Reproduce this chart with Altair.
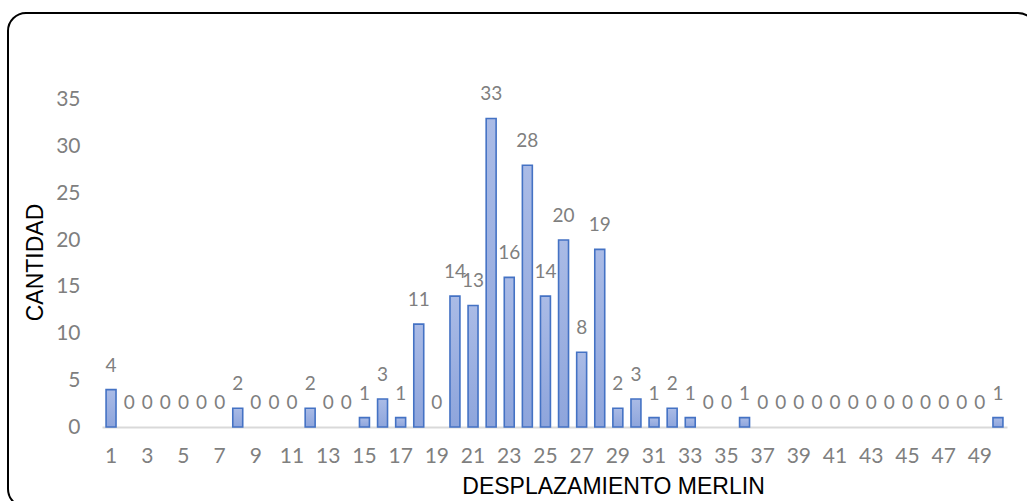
import altair as alt
import pandas as pd

# Displacement classes and their counts
desplazamiento = list(range(1, 51))
cantidad = [4, 0, 0, 0, 0, 0, 0, 2, 0, 0,
            0, 2, 0, 0, 1, 3, 1, 11, 0, 14,
            13, 33, 16, 28, 14, 20, 8, 19, 2, 3,
            1, 2, 1, 0, 0, 1, 0, 0, 0, 0,
            0, 0, 0, 0, 0, 0, 0, 0, 0, 1]
x_ticks = list(range(1, 50, 2))
y_ticks = [0, 5, 10, 15, 20, 25, 30, 35]

df = pd.DataFrame({"desplazamiento": desplazamiento, "cantidad": cantidad})

W, H = 905, 374
GRAY = "#7f7f7f"
NUM_FONT = "Lato"
TITLE_FONT = "Liberation Sans"

x_scale = alt.Scale(domain=desplazamiento, paddingInner=0.45, paddingOuter=0.225)

x_enc = alt.X(
    "desplazamiento:O",
    scale=x_scale,
    axis=alt.Axis(
        values=x_ticks,
        labelAngle=0,
        labelFont=NUM_FONT,
        labelFontSize=21,
        labelColor=GRAY,
        labelPadding=18,
        ticks=False,
        domainColor="#d9d9d9",
        domainWidth=2,
        title="DESPLAZAMIENTO MERLIN",
        titleFont=TITLE_FONT,
        titleFontSize=23,
        titleFontWeight="normal",
        titleColor="black",
        titleAlign="center",
        titleBaseline="alphabetic",
        titleX=511,
        titleY=66,
    ),
)

y_enc = alt.Y(
    "cantidad:Q",
    scale=alt.Scale(domain=[0, 40], nice=False),
    axis=alt.Axis(
        values=y_ticks,
        labelFont=NUM_FONT,
        labelFontSize=21,
        labelColor=GRAY,
        labelPadding=22,
        ticks=False,
        domain=False,
        grid=False,
        title="CANTIDAD",
        titleFont=TITLE_FONT,
        titleFontSize=23,
        titleFontWeight="normal",
        titleColor="black",
        titleAngle=-90,
        titleAlign="center",
        titleBaseline="alphabetic",
        titleX=-60,
        titleY=209,
    ),
)

# Only non-empty classes get a visible bar
bars = alt.Chart(df).transform_filter(
    alt.datum.cantidad > 0
).mark_bar(
    color=alt.Gradient(
        gradient="linear",
        x1=0, y1=0, x2=0, y2=1,
        stops=[
            alt.GradientStop(color="#aabbe6", offset=0),
            alt.GradientStop(color="#8ea5dc", offset=1),
        ],
    ),
    stroke="#4472c4",
    strokeWidth=1.6,
).encode(x=x_enc, y=y_enc)

labels = alt.Chart(df).mark_text(
    font=NUM_FONT,
    fontSize=19,
    color=GRAY,
    baseline="alphabetic",
    align="center",
    dy=-18,
).encode(
    x=alt.X("desplazamiento:O", scale=x_scale),
    y=alt.Y("cantidad:Q"),
    text=alt.Text("cantidad:Q"),
)

# Rounded outline around the whole figure
frame = alt.Chart(pd.DataFrame({"k": [0]})).mark_rect(
    fillOpacity=0,
    stroke="black",
    strokeWidth=2,
    cornerRadius=18,
).encode(
    x=alt.value(-94),
    x2=alt.value(934),
    y=alt.value(-40),
    y2=alt.value(454),
)

chart = alt.layer(bars, labels, frame).properties(
    width=W,
    height=H,
    padding={"left": 102, "top": 53, "right": 20, "bottom": 74},
    autosize=alt.AutoSizeParams(type="none"),
    background="white",
).configure_view(stroke=None)

chart.save("out.html", embed_options={"renderer": "svg", "actions": False})
